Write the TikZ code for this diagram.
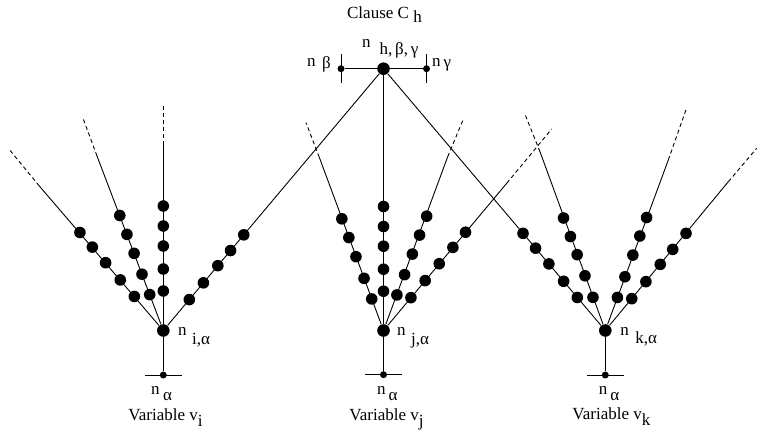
\documentclass[tikz,border=0pt]{standalone}
\usepackage{fontspec}
\setmainfont{Liberation Serif}
\usetikzlibrary{calc}
\newcommand\branchdots[3]{%
  \foreach \d [count=\n] in {#3} \node[dot] (#2-\n) at ($(#1)!\d pt!(#2)$) {};}
\begin{document}
\begin{tikzpicture}[x=1pt,y=-1pt,line width=0.9pt,
  bigdot/.style={circle,fill=black,inner sep=0pt,minimum size=12.6pt},
  dot/.style={circle,fill=black,inner sep=0pt,minimum size=11.6pt},
  smalldot/.style={circle,fill=black,inner sep=0pt,minimum size=7pt},
  lbl/.style={inner sep=0pt,anchor=base west,font=\fontsize{17}{20}\selectfont},
  dashedline/.style={dash pattern=on 4pt off 3pt}]
\useasboundingbox (0,0) rectangle (757,431);

% clause gadget
\node[bigdot] (C) at (383.5,68.7) {};
\node[smalldot] (Nb) at (341,68.7) {};
\node[smalldot] (Ng) at (426.5,68.7) {};

% variable roots and bottom dots
\node[bigdot] (Ri) at (163.3,330.5) {};
\node[bigdot] (Rj) at (383.5,330.5) {};
\node[bigdot] (Rk) at (605.3,330.5) {};
\node[smalldot] (Bi) at (163.3,375) {};
\node[smalldot] (Bj) at (383.5,374.7) {};
\node[smalldot] (Bk) at (605.3,375) {};

% branch end points (s = end of solid part, e = end of dashed part)
\coordinate (i1s) at (39.3,186);   \coordinate (i1e) at (8.3,148.3);
\coordinate (i2s) at (97,156);     \coordinate (i2e) at (83.3,119);
\coordinate (i3s) at (163.3,145);  \coordinate (i3e) at (163.3,104.3);
\coordinate (j1s) at (319.3,157.3); \coordinate (j1e) at (306,122.7);
\coordinate (j3s) at (447.7,156.7); \coordinate (j3e) at (463.3,119.3);
\coordinate (j4s) at (506.7,183.3); \coordinate (j4e) at (551.7,129);
\coordinate (k2s) at (540,151.7);  \coordinate (k2e) at (525,114.3);
\coordinate (k3s) at (668.3,160);  \coordinate (k3e) at (686.7,107.7);
\coordinate (k4s) at (728.3,181.7); \coordinate (k4e) at (756.7,148.3);

% clause connectors
\draw (Nb) -- (Ng);
\draw ($(Nb)+(0,-14.7)$) -- ($(Nb)+(0,14.6)$);
\draw ($(Ng)+(0,-14.7)$) -- ($(Ng)+(0,14.6)$);
\draw (Ri) -- (C);
\draw (Rj) -- (C);
\draw (Rk) -- (C);

% branches
\foreach \r/\b in {Ri/i1,Ri/i2,Ri/i3,Rj/j1,Rj/j3,Rj/j4,Rk/k2,Rk/k3,Rk/k4}{
  \draw (\r) -- (\b s);
  \draw[dashedline] (\b s) -- (\b e);
}

% bottom stems
\foreach \r/\b in {Ri/Bi,Rj/Bj,Rk/Bk}{
  \draw (\r) -- (\b);
  \draw ($(\b)+(-18.3,0)$) -- ($(\b)+(18.3,0)$);
}

% dots along branches
\branchdots{Ri}{i1e}{44.7,66.4,89,109.5,128.7}
\branchdots{Ri}{i2e}{38.4,60.2,82.5,102.8,123}
\branchdots{Ri}{i3e}{39.5,61.5,84.5,104.5,124.5}
\branchdots{Ri}{C}{40.4,62.3,84.7,104.5,125}
\branchdots{Rj}{j1e}{33.7,55.7,78.8,99.2,119.2}
\branchdots{Rj}{C}{39.3,61.3,84.3,104,124}
\branchdots{Rj}{j3e}{38,59.7,81.7,102,122.2}
\branchdots{Rj}{j4e}{42.8,65,87,108.3,128}
\branchdots{Rk}{C}{43.3,64.5,87.3,107.9,127.3}
\branchdots{Rk}{k2e}{35.4,58.4,80.9,100.2,120}
\branchdots{Rk}{k3e}{35.2,57.2,80.3,100.6,120.3}
\branchdots{Rk}{k4e}{41.4,63.5,86,105.5,126.3}

% labels
\node[lbl] (lclause) at (346.7,18.3) {Clause C \raisebox{-4.4pt}{h}};
\node[lbl] (lh) at (361.7,47.3) {n\hspace{9pt}\raisebox{-6.7pt}{h,\,β,\,γ}};
\node[lbl] (lb) at (306.7,66.7) {n\hspace{6.5pt}\raisebox{-1.5pt}{β}};
\node[lbl] (lg) at (431.7,66.7) {n\hspace{3pt}\raisebox{-1pt}{γ}};
\node[lbl] (lia) at (177.7,335) {n\hspace{5.5pt}\raisebox{-9pt}{i,α}};
\node[lbl] (lja) at (396.7,335) {n\hspace{5.5pt}\raisebox{-9pt}{j,α}};
\node[lbl] (lka) at (620,335) {n\hspace{6.5pt}\raisebox{-8pt}{k,α}};
\node[lbl] (lai) at (150.7,394) {n\hspace{3.5pt}\raisebox{-6pt}{α}};
\node[lbl] (laj) at (376.7,394) {n\hspace{3pt}\raisebox{-6pt}{α}};
\node[lbl] (lak) at (598.3,394) {n\hspace{3pt}\raisebox{-6pt}{α}};
\node[lbl] (lvi) at (128,420) {Variable v\raisebox{-6pt}{i}};
\node[lbl] (lvj) at (349,420) {Variable v\raisebox{-6pt}{j}};
\node[lbl] (lvk) at (572,419) {Variable v\raisebox{-6pt}{k}};
\end{tikzpicture}
\end{document}
